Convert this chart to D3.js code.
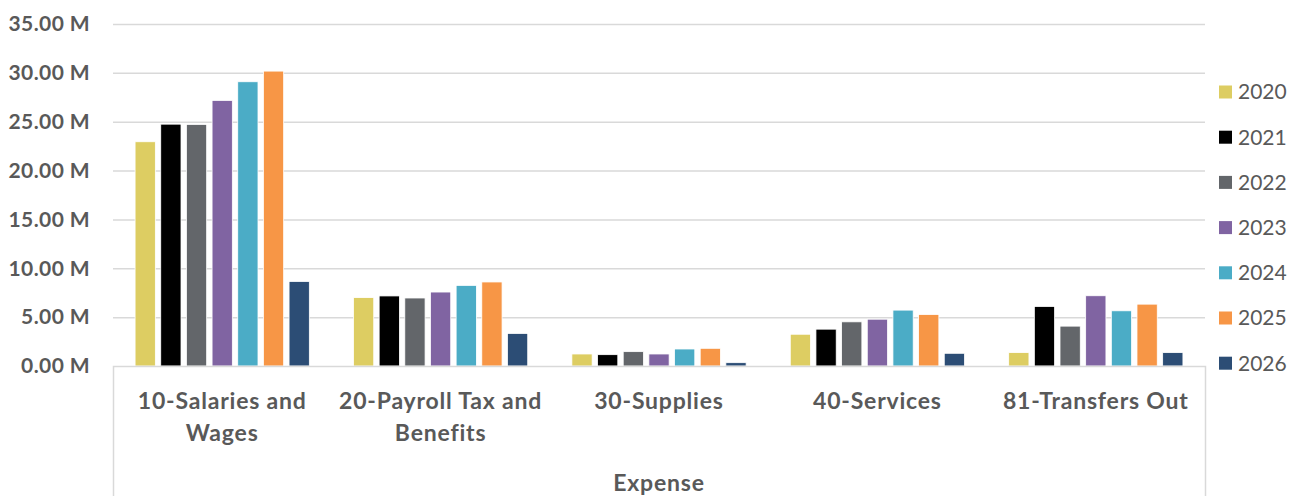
<!DOCTYPE html>
<html><head><meta charset="utf-8">
<script src="https://cdn.jsdelivr.net/npm/d3@7"></script>
<style>
body{margin:0;background:#fff}
svg text{font-family:Lato,"Open Sans",sans-serif;fill:#595959}
</style>
</head><body>
<svg id="chart" width="1301" height="496"></svg>
<script>
const categories = ["10-Salaries and Wages","20-Payroll Tax and Benefits","30-Supplies","40-Services","81-Transfers Out"];
const years = ["2020","2021","2022","2023","2024","2025","2026"];
const v2020 = [22.95, 7.00, 1.23, 3.25, 1.37];
const v2021 = [24.75, 7.17, 1.16, 3.77, 6.09];
const v2022 = [24.72, 6.96, 1.47, 4.52, 4.08];
const v2023 = [27.18, 7.57, 1.23, 4.79, 7.19];
const v2024 = [29.09, 8.25, 1.74, 5.72, 5.65];
const v2025 = [30.18, 8.60, 1.81, 5.27, 6.33];
const v2026 = [8.65, 3.33, 0.34, 1.30, 1.37];
const seriesValues = [v2020, v2021, v2022, v2023, v2024, v2025, v2026];
const colors = ["#DDCD62","#000000","#63666A","#8064A2","#4BACC6","#F79646","#2C4D75"];
const yTicks = [0,5,10,15,20,25,30,35];
const axisTitle = "Expense";

const svg = d3.select("#chart");
const L = 113, R = 1205, T = 24, B = 366;

const x0 = d3.scaleBand().domain(categories).range([L, R]);
const x1 = d3.scaleBand().domain(years).range([0, x0.bandwidth()]).paddingInner(0.21).paddingOuter(0.86);
const y = d3.scaleLinear().domain([0, 35]).range([B, T]);

// gridlines
const grid = svg.append("g").attr("transform", `translate(${L},0)`)
  .call(d3.axisLeft(y).tickValues(yTicks.filter(d=>d>0)).tickSize(-(R-L)).tickFormat(""));
grid.select(".domain").remove();
grid.selectAll("line").attr("stroke","#D9D9D9").attr("stroke-width",1.5);

// y labels
const ya = svg.append("g").attr("transform", `translate(${L},0)`)
  .call(d3.axisLeft(y).tickValues(yTicks).tickSize(0).tickPadding(23).tickFormat(d => d.toFixed(2) + " M"));
ya.select(".domain").remove();
ya.selectAll("text").attr("font-size",21).attr("font-weight","bold").attr("letter-spacing",0.4)
  .style("font-family","Lato").attr("fill","#595959");

// bars
const rows = categories.map((c,i) => ({cat:c, vals: years.map((yr,j)=>({yr, v: seriesValues[j][i], color: colors[j]}))}));
const g = svg.append("g");
g.selectAll("g").data(rows).join("g")
  .attr("transform", d => `translate(${x0(d.cat)},0)`)
  .selectAll("rect").data(d => d.vals).join("rect")
  .attr("x", d => x1(d.yr))
  .attr("width", x1.bandwidth())
  .attr("y", d => y(d.v))
  .attr("height", d => y(0) - y(d.v))
  .attr("fill", d => d.color)
  .attr("stroke", "#fff").attr("stroke-width", 0.8);

// category axis (box shape)
const xa = svg.append("g").attr("transform", `translate(0,${B})`)
  .call(d3.axisBottom(x0).tickSizeInner(0).tickSizeOuter(140).tickFormat(""));
xa.select(".domain").attr("stroke","#D9D9D9").attr("stroke-width",1.5);
xa.selectAll(".tick line").remove();

// category labels with wrapping
const maxW = x0.bandwidth() - 4;
categories.forEach(c => {
  const cx = x0(c) + x0.bandwidth()/2;
  const t = svg.append("text").attr("text-anchor","middle").attr("font-size",23)
    .attr("font-weight","bold").attr("letter-spacing",0.8);
  const words = c.split(" ");
  let lines = [], cur = [];
  words.forEach(w => {
    cur.push(w);
    t.text(cur.join(" "));
    if (t.node().getComputedTextLength() > maxW && cur.length > 1) {
      cur.pop(); lines.push(cur.join(" ")); cur = [w];
    }
  });
  lines.push(cur.join(" "));
  t.text(null);
  lines.forEach((ln,i) => t.append("tspan").attr("x", cx).attr("y", 409 + i*32).text(ln));
});

svg.append("text").attr("x", (L+R)/2).attr("y", 491).attr("text-anchor","middle")
  .attr("font-size",23).attr("font-weight","bold").attr("letter-spacing",0.8).text(axisTitle);

// legend
const lg = svg.append("g").selectAll("g").data(years).join("g")
  .attr("transform", (d,i) => `translate(1219,${92 + i*45.2})`);
lg.append("rect").attr("x",0).attr("y",-6.5).attr("width",13).attr("height",13).attr("fill",(d,i)=>colors[i]);
lg.append("text").attr("x",19).attr("y",0).attr("dy","0.35em").attr("font-size",21).text(d=>d);
</script>
</body></html>
